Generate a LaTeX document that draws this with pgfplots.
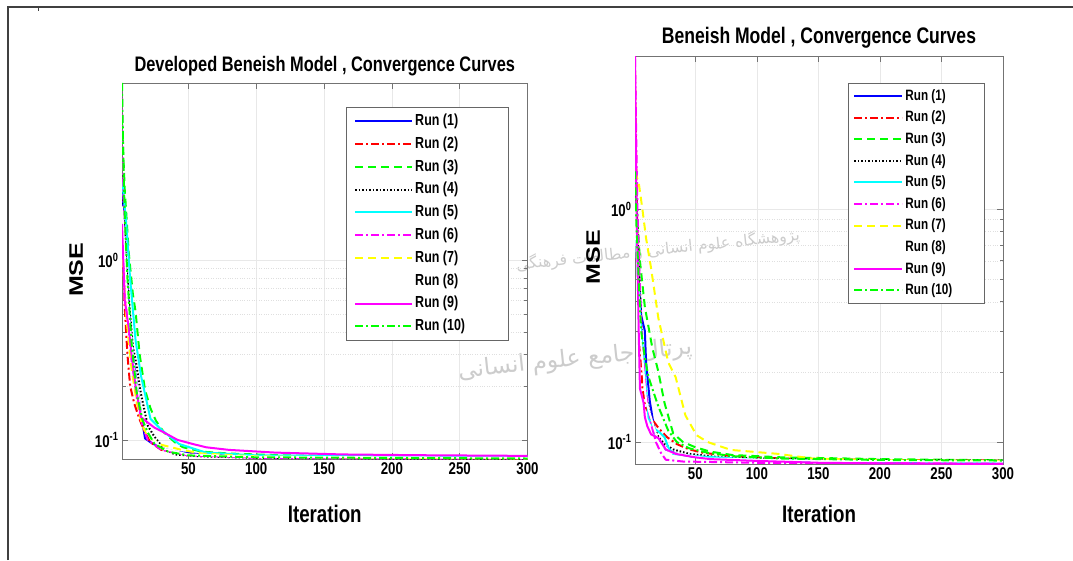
\documentclass[border=0pt]{standalone}
\usepackage{pgfplots}
\pgfplotsset{compat=1.18}
\usepackage{fontspec}
\setmainfont{Liberation Sans}[FakeStretch=0.78]
\newfontfamily\plainsans{Liberation Sans}
\newfontfamily\fafont[Script=Arabic]{DejaVu Sans}
\TeXXeTstate=1
\newcommand\fs[1]{\fontsize{#1pt}{#1pt}\selectfont\bfseries}
\newcommand\mse{\scalebox{1}[0.78]{\plainsans\fontsize{25pt}{25pt}\selectfont\bfseries MSE}}

\definecolor{mblue}{rgb}{0,0,1}
\definecolor{mred}{rgb}{1,0,0}
\definecolor{mgreen}{rgb}{0,1,0}
\definecolor{mcyan}{rgb}{0,1,1}
\definecolor{mmagenta}{rgb}{1,0,1}
\definecolor{myellow}{rgb}{1,1,0}

\tikzset{
  mdash/.style={dash pattern=on 8pt off 5pt},
  mdashdot/.style={dash pattern=on 8pt off 3pt on 2pt off 3pt},
  mdot/.style={dash pattern=on 1.5pt off 2pt},
}
\pgfplotsset{
  mlab/.style={
    scale only axis, xmin=1, xmax=300,
    xtick={50,100,...,300}, ytick={0.1,1},
    yticklabels={10\textsuperscript{-1},10\textsuperscript{0}},
    /pgf/number format/assume math mode=true,
    tick label style={font=\fs{17}},
    tick align=inside, tick pos=both,
    major tick length=6pt, minor tick length=3.5pt,
    axis line style={black!55, line width=0.8pt},
    tick style={black!55, line width=0.6pt},
    grid=both, major grid style={gray!18, line width=0.6pt},
    minor grid style={gray!25, dotted, line width=0.5pt},
    legend cell align=left,
    legend style={draw=black!60, line width=0.8pt, fill=white, anchor=north west,
      nodes={inner ysep=0pt, inner xsep=2pt, text height=12pt, text depth=3.5pt}},
    every axis plot/.append style={line width=2pt},
    xlabel style={font=\fs{24}, anchor=center},
    ylabel style={anchor=center, rotate=0},
    title style={anchor=center, yshift=-8pt},
  },
  r1/.style={mblue},
  r2/.style={mred, mdashdot},
  r3/.style={mgreen, mdash},
  r4/.style={black, mdot},
  r5/.style={mcyan},
  r6/.style={mmagenta, mdashdot},
  r7/.style={myellow, mdash},
  r8/.style={white},
  r9/.style={mmagenta},
  r10/.style={mgreen, mdashdot},
}

\begin{document}
\begin{tikzpicture}[x=1pt,y=1pt]
\useasboundingbox (0,0) rectangle (1073,560);
\draw[black!75, line width=1.8pt] (8,0) -- (8,553) -- (1073,553);
\draw[black!75, line width=0.8pt] (38,553) -- (38,549);

% watermark of the source page, faint, behind the axes
\node[black!20, rotate=6] at (658,310) {\resizebox{285pt}{!}{\fafont\beginR پژوهشگاه علوم انسانی و مطالعات فرهنگی\endR}};
\node[black!20, rotate=6] at (575,200) {\resizebox{235pt}{!}{\fafont\beginR پرتال جامع علوم انسانی\endR}};

% left panel
\begin{semilogyaxis}[mlab, at={(122pt,101pt)}, anchor=south west, width=405.5pt, height=376pt,
    ymin=0.0783, ymax=9.75,
    title={\fs{21}Developed Beneish Model , Convergence Curves},
    title style={at={(axis description cs:0.5,1.05)}},
    xlabel={Iteration}, xlabel style={at={(axis description cs:0.5,-0.146)}},
    ylabel={\mse}, ylabel style={at={(axis description cs:-0.113,0.503)}},
    legend style={at={(0.552,0.936)}, font=\fs{16}, row sep=7.3pt, inner xsep=8pt, inner ysep=6pt},
    legend image code/.code={\draw[#1] (0pt,0pt) -- (57pt,0pt);}]
\addplot[r1] coordinates {(1,2.5)(3,1.2)(6,0.55)(9,0.3)(12,0.2)(15,0.14)(18,0.102)(22,0.097)(30,0.09)(40,0.086)(60,0.083)(100,0.0812)(150,0.0804)(200,0.0798)(300,0.0793)};
\addlegendentry{\makebox[83pt][l]{Run (1)}}
\addplot[r2] coordinates {(1,1.5)(3,0.55)(5,0.3)(7,0.2)(10,0.16)(14,0.13)(18,0.11)(22,0.097)(30,0.088)(50,0.083)(100,0.0805)(200,0.0795)(300,0.079)};
\addlegendentry{Run (2)}
\addplot[r3] coordinates {(1,6.0)(3,2.5)(6,1.1)(9,0.65)(11,0.52)(14,0.3)(18,0.19)(22,0.15)(26,0.128)(32,0.11)(40,0.097)(46,0.091)(60,0.086)(80,0.084)(120,0.082)(200,0.081)(300,0.0805)};
\addlegendentry{Run (3)}
\addplot[r4] coordinates {(1,3.0)(4,1.0)(7,0.5)(9,0.33)(11,0.28)(15,0.18)(20,0.12)(25,0.104)(32,0.089)(40,0.083)(60,0.081)(100,0.0795)(200,0.0788)(300,0.0783)};
\addlegendentry{Run (4)}
\addplot[r5] coordinates {(1,2.85)(4,1.64)(7,0.79)(11,0.36)(15,0.228)(22,0.131)(30,0.114)(43,0.095)(63,0.085)(100,0.082)(200,0.081)(300,0.0805)};
\addlegendentry{Run (5)}
\addplot[r6] coordinates {(1,8)(2,2.5)(3,1.0)(5,0.5)(8,0.28)(12,0.17)(16,0.12)(20,0.1)(30,0.088)(50,0.082)(100,0.0795)(300,0.0788)};
\addlegendentry{Run (6)}
\addplot[r7] coordinates {(1,1.2)(4,0.5)(8,0.25)(12,0.16)(16,0.12)(20,0.105)(30,0.094)(45,0.088)(60,0.084)(100,0.081)(200,0.0795)(300,0.079)};
\addlegendentry{Run (7)}
\addplot[r8] coordinates {(1,2)(5,0.6)(10,0.25)(15,0.14)(20,0.11)(30,0.09)(50,0.083)(100,0.0805)(300,0.0795)};
\addlegendentry{Run (8)}
\addplot[r9] coordinates {(1,1.6)(3,0.6)(6,0.42)(8,0.3)(11,0.2)(15,0.134)(20,0.125)(25,0.117)(32,0.11)(42,0.1)(53,0.095)(63,0.091)(80,0.088)(114,0.085)(164,0.083)(220,0.0822)(300,0.0815)};
\addlegendentry{Run (9)}
\addplot[r10] coordinates {(1,9.75)(2,3.5)(3,1.8)(5,0.8)(8,0.35)(12,0.18)(16,0.13)(20,0.11)(25,0.095)(35,0.086)(50,0.082)(100,0.080)(300,0.0788)};
\addlegendentry{Run (10)}
\end{semilogyaxis}

% right panel
\begin{semilogyaxis}[mlab, at={(635pt,96pt)}, anchor=south west, width=368pt, height=408pt,
    ymin=0.0805, ymax=4.54,
    title={\fs{22.5}Beneish Model , Convergence Curves},
    title style={at={(axis description cs:0.5,1.049)}},
    xlabel={Iteration}, xlabel style={at={(axis description cs:0.5,-0.1225)}},
    ylabel={\mse}, ylabel style={at={(axis description cs:-0.114,0.507)}},
    legend style={at={(0.579,0.934)}, font=\fs{15}, row sep=6.1pt, inner xsep=5pt, inner ysep=5pt},
    legend image code/.code={\draw[#1] (0pt,0pt) -- (48pt,0pt);}]
\addplot[r1] coordinates {(1,1.2)(3,0.6)(6,0.35)(9,0.3)(10,0.22)(13,0.15)(16,0.12)(18,0.106)(22,0.1)(26,0.093)(35,0.089)(48,0.0865)(80,0.084)(150,0.0825)(300,0.082)};
\addlegendentry{\makebox[72pt][l]{Run (1)}}
\addplot[r2] coordinates {(1,3.9)(2,1.5)(3,0.7)(5,0.3)(7,0.17)(10,0.14)(15,0.125)(20,0.115)(27,0.105)(35,0.098)(45,0.093)(56,0.09)(80,0.087)(120,0.085)(200,0.0838)(300,0.0833)};
\addlegendentry{Run (2)}
\addplot[r3] coordinates {(1,1.3)(3,0.9)(5,0.6)(9,0.38)(15,0.255)(20,0.2)(25,0.147)(32,0.109)(40,0.1)(50,0.095)(62,0.091)(80,0.088)(120,0.086)(200,0.0845)(300,0.0835)};
\addlegendentry{Run (3)}
\addplot[r4] coordinates {(1,1.5)(3,0.8)(5,0.45)(7,0.25)(10,0.16)(14,0.125)(20,0.105)(25,0.098)(32,0.093)(45,0.089)(70,0.086)(120,0.0845)(200,0.0835)(300,0.0833)};
\addlegendentry{Run (4)}
\addplot[r5] coordinates {(1,1.0)(3,0.55)(6,0.3)(9,0.2)(12,0.127)(16,0.115)(21,0.11)(25,0.105)(28,0.095)(32,0.089)(50,0.087)(100,0.084)(200,0.0825)(300,0.082)};
\addlegendentry{Run (5)}
\addplot[r6] coordinates {(1,4.4)(2,2.0)(3,1.0)(5,0.45)(7,0.25)(10,0.16)(14,0.12)(18,0.1)(22,0.09)(26,0.084)(40,0.0825)(100,0.0815)(300,0.081)};
\addlegendentry{Run (6)}
\addplot[r7] coordinates {(1,1.45)(4,1.3)(7,1.0)(10,0.75)(14,0.56)(20,0.34)(28,0.22)(34,0.19)(42,0.13)(51,0.107)(60,0.1)(79,0.0925)(117,0.089)(145,0.085)(200,0.0835)(300,0.083)};
\addlegendentry{Run (7)}
\addplot[r8] coordinates {(1,1.0)(5,0.3)(10,0.15)(20,0.1)(30,0.09)(60,0.085)(150,0.083)(300,0.0825)};
\addlegendentry{Run (8)}
\addplot[r9] coordinates {(1,4.54)(2,1.2)(3,0.6)(4,0.3)(5,0.17)(8,0.147)(9,0.128)(11,0.117)(14,0.108)(20,0.104)(26,0.093)(34,0.089)(50,0.086)(62,0.0845)(100,0.083)(150,0.0815)(200,0.081)(300,0.0805)};
\addlegendentry{Run (9)}
\addplot[r10] coordinates {(1,1.45)(2,0.9)(4,0.5)(6,0.3)(9,0.23)(12,0.19)(20,0.142)(28,0.112)(35,0.1)(45,0.094)(60,0.09)(80,0.087)(120,0.085)(200,0.0838)(300,0.0833)};
\addlegendentry{Run (10)}
\end{semilogyaxis}
\end{tikzpicture}
\end{document}
